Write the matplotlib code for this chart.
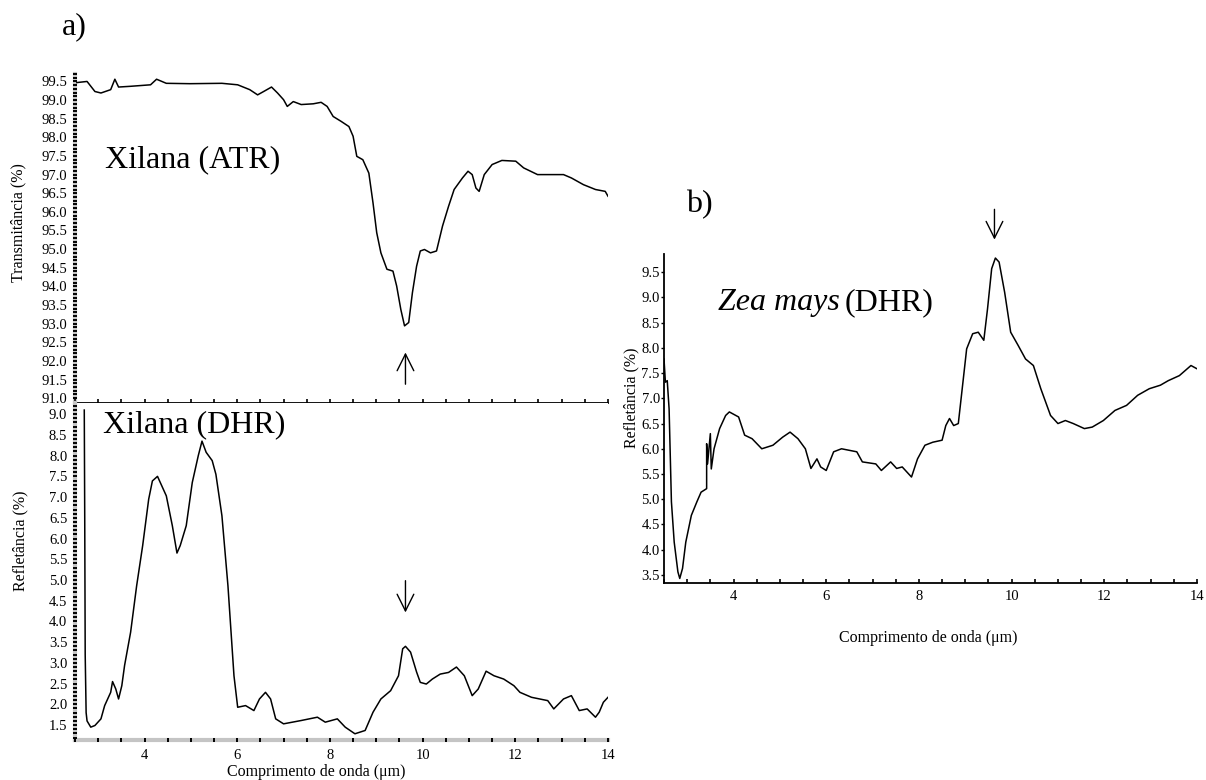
import matplotlib
matplotlib.use('Agg')
import matplotlib.pyplot as plt
from matplotlib.ticker import MultipleLocator, FormatStrFormatter

plt.rcParams['font.family'] = ['Liberation Serif', 'DejaVu Serif']

# a) Xilana (ATR) - transmitância
atr_x = [2.54, 2.76, 2.93, 3.06, 3.27, 3.36, 3.44, 3.7, 4.13, 4.26, 4.47, 4.98, 5.67, 6.01,
         6.27, 6.44, 6.57, 6.74, 6.87, 7.0, 7.08, 7.21, 7.38, 7.64, 7.81, 7.94, 8.07, 8.24,
         8.41, 8.5, 8.58, 8.71, 8.84, 8.93, 9.01, 9.1, 9.23, 9.36, 9.44, 9.53, 9.61, 9.7,
         9.78, 9.87, 9.95, 10.04, 10.17, 10.3, 10.43, 10.56, 10.68, 10.86, 10.98, 11.07,
         11.15, 11.22, 11.33, 11.5, 11.71, 12.01, 12.18, 12.48, 13.04, 13.21, 13.47, 13.73,
         13.94, 14.0]
atr_y = [99.47, 99.5, 99.23, 99.19, 99.28, 99.56, 99.35, 99.37, 99.41, 99.56, 99.45, 99.44,
         99.45, 99.41, 99.28, 99.14, 99.23, 99.35, 99.19, 99.01, 98.83, 98.96, 98.88, 98.9,
         98.94, 98.83, 98.56, 98.43, 98.29, 98.03, 97.49, 97.4, 97.04, 96.24, 95.44, 94.9,
         94.46, 94.41, 94.01, 93.38, 92.94, 93.03, 93.83, 94.54, 94.95, 94.99, 94.9, 94.95,
         95.62, 96.15, 96.6, 96.91, 97.09, 97.0, 96.64, 96.55, 97.0, 97.27, 97.38, 97.36,
         97.18, 97.0, 97.0, 96.91, 96.73, 96.6, 96.55, 96.42]

# a) Xilana (DHR) - refletância
xdhr_x = [2.7, 2.71, 2.72, 2.74, 2.76, 2.84, 2.93, 3.06, 3.14, 3.27, 3.31, 3.38, 3.44,
          3.51, 3.57, 3.7, 3.83, 3.96, 4.09, 4.17, 4.28, 4.47, 4.6, 4.7, 4.77, 4.9, 5.03,
          5.16, 5.24, 5.33, 5.46, 5.54, 5.67, 5.8, 5.93, 6.01, 6.18, 6.36, 6.48, 6.61,
          6.72, 6.83, 7.0, 7.38, 7.73, 7.9, 8.16, 8.33, 8.54, 8.76, 8.93, 9.1, 9.31, 9.48,
          9.57, 9.63, 9.74, 9.87, 9.95, 10.08, 10.21, 10.38, 10.56, 10.73, 10.9, 11.07,
          11.2, 11.37, 11.54, 11.75, 11.97, 12.1, 12.35, 12.7, 12.83, 13.04, 13.21, 13.38,
          13.55, 13.73, 13.81, 13.9, 14.0]
xdhr_y = [9.1, 6.5, 3.2, 1.8, 1.6, 1.45, 1.49, 1.65, 1.97, 2.29, 2.55, 2.37, 2.13,
          2.45, 2.94, 3.74, 4.86, 5.83, 6.95, 7.39, 7.5, 7.03, 6.31, 5.65, 5.83, 6.31, 7.35,
          8.0, 8.35, 8.08, 7.88, 7.55, 6.55, 4.86, 2.69, 1.93, 1.97, 1.85, 2.13, 2.29,
          2.13, 1.65, 1.53, 1.61, 1.69, 1.57, 1.65, 1.45, 1.29, 1.37, 1.81, 2.13, 2.33, 2.69,
          3.34, 3.4, 3.26, 2.78, 2.53, 2.49, 2.61, 2.73, 2.77, 2.9, 2.69, 2.21,
          2.37, 2.8, 2.69, 2.61, 2.45, 2.29, 2.17, 2.09, 1.89, 2.13, 2.21, 1.85,
          1.89, 1.69, 1.81, 2.05, 2.17]

# b) Zea mays (DHR) - refletância
zea_x = [2.5, 2.53, 2.57, 2.61, 2.66, 2.72, 2.8, 2.84, 2.9, 2.97, 3.09, 3.21, 3.3, 3.42,
         3.42, 3.44, 3.5, 3.52, 3.58, 3.7, 3.83, 3.91, 4.11, 4.24, 4.4, 4.61, 4.85, 5.06,
         5.22, 5.39, 5.55, 5.67, 5.8, 5.88, 6.0, 6.16, 6.33, 6.66, 6.78, 7.07, 7.19, 7.39,
         7.52, 7.64, 7.84, 7.97, 8.13, 8.3, 8.5, 8.58, 8.66, 8.75, 8.85, 8.95, 9.03, 9.16,
         9.28, 9.4, 9.48, 9.57, 9.65, 9.73, 9.85, 9.98, 10.14, 10.3, 10.47, 10.63, 10.84,
         11.0, 11.16, 11.33, 11.57, 11.74, 11.98, 12.23, 12.48, 12.72, 12.97, 13.21, 13.38,
         13.62, 13.87, 13.99]
zea_y = [7.78, 7.32, 7.35, 6.79, 4.95, 4.15, 3.56, 3.43, 3.63, 4.15, 4.68, 4.95, 5.14, 5.21,
         6.1, 5.7, 6.3, 5.6, 6.0, 6.4, 6.66, 6.73, 6.63, 6.27, 6.2, 6.0, 6.07, 6.23,
         6.33, 6.2, 6.0, 5.61, 5.8, 5.64, 5.57, 5.94, 6.0, 5.94, 5.74, 5.7, 5.57, 5.74,
         5.61, 5.64, 5.44, 5.8, 6.07, 6.13, 6.17, 6.46, 6.6, 6.46, 6.5, 7.32, 7.98, 8.28,
         8.31, 8.15, 8.77, 9.57, 9.78, 9.7, 9.1, 8.31, 8.05, 7.78, 7.65, 7.19, 6.66,
         6.5, 6.56, 6.5, 6.4, 6.43, 6.56, 6.76, 6.86, 7.06, 7.19, 7.26, 7.35,
         7.45, 7.65, 7.59]

W, H = 1206, 780
fig = plt.figure(figsize=(W / 100, H / 100), dpi=100)


def box(x0, y0, x1, y1):
    return [x0 / W, 1 - y1 / H, (x1 - x0) / W, (y1 - y0) / H]


ax1 = fig.add_axes(box(75, 74, 608, 403))
ax2 = fig.add_axes(box(75, 403, 608, 740))
ax3 = fig.add_axes(box(664, 254, 1197, 583))

cinza = '#c4c4c4'
for ax in (ax1, ax2, ax3):
    ax.spines['top'].set_visible(False)
    ax.spines['right'].set_visible(False)
    ax.set_xlim(2.5, 14)
    ax.xaxis.set_major_locator(MultipleLocator(2))
    ax.xaxis.set_minor_locator(MultipleLocator(0.5))
    ax.yaxis.set_major_locator(MultipleLocator(0.5))
    ax.yaxis.set_major_formatter(FormatStrFormatter('%.1f'))
    ax.tick_params(axis='both', labelsize=10.5, colors='black')

# painel superior esquerdo
ax1.plot(atr_x, atr_y, color='black', lw=1.1)
ax1.set_ylim(90.87, 99.7)
ax1.tick_params(axis='x', which='both', labelbottom=False, direction='in', length=3, width=1.2)
ax1.spines['left'].set_color(cinza)
ax1.spines['left'].set_linewidth(3)
ax1.spines['left'].set_zorder(1)
ax1.spines['bottom'].set_linewidth(1.3)
ax1.yaxis.set_minor_locator(MultipleLocator(0.1))
ax1.tick_params(axis='y', which='both', direction='inout', length=3, width=1.4, pad=4)
ax1.annotate('', xy=(9.63, 92.3), xytext=(9.63, 91.3),
             arrowprops=dict(arrowstyle='->,head_length=0.6,head_width=0.3',
                             lw=1, color='black', mutation_scale=20))

# painel inferior esquerdo
ax2.plot(xdhr_x, xdhr_y, color='black', lw=1.1)
ax2.set_ylim(1.14, 9.27)
for lado in ('left', 'bottom'):
    ax2.spines[lado].set_color(cinza)
    ax2.spines[lado].set_linewidth(3)
    ax2.spines[lado].set_zorder(1)
ax2.yaxis.set_minor_locator(MultipleLocator(0.1))
ax2.tick_params(axis='y', which='both', direction='inout', length=3, width=1.4, pad=4)
ax2.tick_params(axis='x', which='both', direction='inout', length=3, width=1.4, pad=5)
ax2.set_yticks([1.5, 2.0, 2.5, 3.0, 3.5, 4.0, 4.5, 5.0, 5.5, 6.0, 6.5, 7.0, 7.5, 8.0, 8.5, 9.0])
ax2.annotate('', xy=(9.63, 4.15), xytext=(9.63, 5.05),
             arrowprops=dict(arrowstyle='->,head_length=0.6,head_width=0.3',
                             lw=1, color='black', mutation_scale=20))

# painel b)
ax3.plot(zea_x, zea_y, color='black', lw=1.1)
ax3.set_ylim(3.34, 9.86)
ax3.spines['left'].set_linewidth(1.3)
ax3.spines['bottom'].set_linewidth(1.3)
ax3.tick_params(axis='y', which='both', direction='out', length=2, width=1, pad=1)
ax3.tick_params(axis='x', which='both', direction='in', length=3, width=1.2, pad=5)
ax3.set_yticks([3.5, 4.0, 4.5, 5.0, 5.5, 6.0, 6.5, 7.0, 7.5, 8.0, 8.5, 9.0, 9.5])
ax3.annotate('', xy=(9.63, 10.09), xytext=(9.63, 10.8),
             arrowprops=dict(arrowstyle='->,head_length=0.6,head_width=0.3',
                             lw=1, color='black', mutation_scale=20),
             annotation_clip=False)

# textos
fig.text(62 / W, 1 - 34 / H, 'a)', fontsize=23, va='baseline', ha='left')
fig.text(686 / W, 1 - 212 / H, 'b)', fontsize=23, va='baseline', ha='left')
fig.text(105 / W, 1 - 167 / H, 'Xilana (ATR)', fontsize=23, va='baseline', ha='left')
fig.text(103 / W, 1 - 432 / H, 'Xilana (DHR)', fontsize=23, va='baseline', ha='left')
fig.text(718 / W, 1 - 310 / H, 'Zea mays', fontsize=23, style='italic', va='baseline', ha='left')
fig.text(845 / W, 1 - 310 / H, '(DHR)', fontsize=23, va='baseline', ha='left')

fig.text(18 / W, 1 - 223 / H, 'Transmitância (%)', rotation=90, fontsize=11.5,
         ha='center', va='center')
fig.text(20 / W, 1 - 541 / H, 'Refletância (%)', rotation=90, fontsize=11.5,
         ha='center', va='center')
fig.text(631 / W, 1 - 398 / H, 'Refletância (%)', rotation=90, fontsize=11.5,
         ha='center', va='center')
fig.text(316 / W, 1 - 772 / H, 'Comprimento de onda (μm)', fontsize=11.5,
         ha='center', va='center')
fig.text(928 / W, 1 - 638 / H, 'Comprimento de onda (μm)', fontsize=11.5,
         ha='center', va='center')

fig.savefig('out.png', dpi=100, facecolor='white')
